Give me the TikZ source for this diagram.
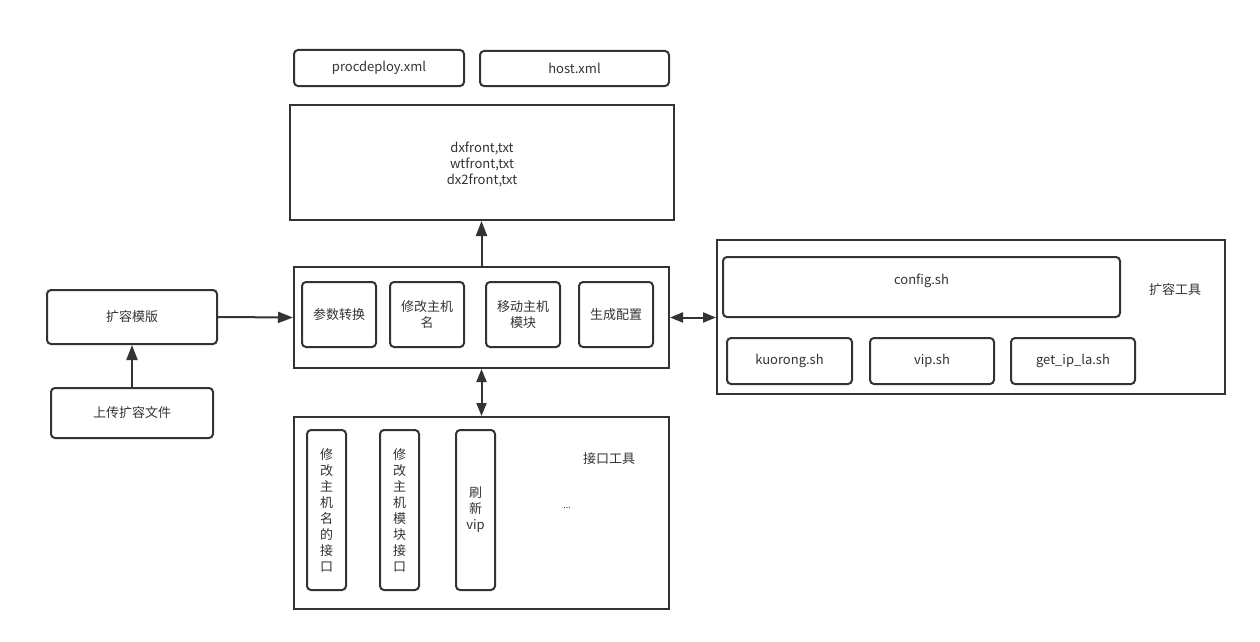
\documentclass[tikz,border=0pt]{standalone}
\usepackage{fontspec}
\setmainfont{Noto Sans CJK SC}
\usetikzlibrary{arrows.meta}
\definecolor{lc}{HTML}{333333}
\definecolor{tc}{HTML}{333333}
\begin{document}
\begin{tikzpicture}[x=1pt,y=-1pt,
  box/.style={draw=lc, line width=2pt, fill=white, inner sep=0pt,
    font=\fontsize{13}{16}\selectfont, text=tc, align=center},
  rbox/.style={box, rounded corners=4pt},
  lbl/.style={inner sep=0pt, font=\fontsize{13}{16}\selectfont, text=tc, align=center},
  arr/.style={draw=lc, line width=2pt, -{Triangle[length=15pt,width=11pt]}},
  darr/.style={draw=lc, line width=2pt, {Triangle[length=13pt,width=10pt]}-{Triangle[length=13pt,width=10pt]}}]
\useasboundingbox[fill=white] (0,0) rectangle (1260,642);
% top files
\node[rbox, minimum width=170pt, minimum height=36pt] (proc) at (379,68) {procdeploy.xml};
\node[rbox, minimum width=189pt, minimum height=35pt] (host) at (574.5,68.5) {host.xml};
\node[box, minimum width=384pt, minimum height=115pt] (txt) at (482,162.5) {};
\node[lbl] (txtl) at (482,164.5) {dxfront,txt\\wtfront,txt\\dx2front,txt};
% middle container
\node[box, minimum width=375pt, minimum height=101pt] (mid) at (481.5,317.5) {};
\node[rbox, minimum width=74pt, minimum height=65pt] (m1) at (339,314.5) {参数转换};
\node[rbox, minimum width=74pt, minimum height=65pt] (m2) at (427,314.5) {修改主机\\名};
\node[rbox, minimum width=74pt, minimum height=65pt] (m3) at (523,314.5) {移动主机\\模块};
\node[rbox, minimum width=74pt, minimum height=65pt] (m4) at (616,314.5) {生成配置};
% bottom container
\node[box, minimum width=375pt, minimum height=192pt] (bot) at (481.5,513) {};
\node[rbox, minimum width=39pt, minimum height=160pt] (b1) at (326.5,510) {修\\改\\主\\机\\名\\的\\接\\口};
\node[rbox, minimum width=39pt, minimum height=160pt] (b2) at (399.5,510) {修\\改\\主\\机\\模\\块\\接\\口};
\node[rbox, minimum width=39pt, minimum height=160pt] (b3) at (475.5,510) {刷\\新\\vip};
\node[lbl] (jk) at (609,459) {接口工具};
\node[lbl, font=\fontsize{9}{10}\selectfont] (dots) at (567,508) {...};
% right container
\node[box, minimum width=508pt, minimum height=154pt] (right) at (971,317) {};
\node[rbox, minimum width=397pt, minimum height=60pt] (cfg) at (921.5,287) {};
\node[lbl] (cfgt) at (921.5,281) {config.sh};
\node[lbl] (kr) at (1175,290) {扩容工具};
\node[rbox, minimum width=125pt, minimum height=46pt] (k1) at (789.5,361) {kuorong.sh};
\node[rbox, minimum width=124pt, minimum height=46pt] (k2) at (932,361) {vip.sh};
\node[rbox, minimum width=124pt, minimum height=46pt] (k3) at (1073,361) {get\_ip\_la.sh};
% left
\node[rbox, minimum width=170pt, minimum height=54pt] (tpl) at (132,317) {扩容模版};
\node[rbox, minimum width=162pt, minimum height=50pt] (up) at (132,413) {上传扩容文件};
% connectors
\draw[arr] (tpl.east) -- (mid.west);
\draw[arr] (up.north) -- (tpl.south);
\draw[arr] (mid.north) -- (mid.north |- txt.south);
\draw[darr] (mid.south) -- (bot.north);
\draw[darr] (mid.east) -- (mid.east -| right.west);
\end{tikzpicture}
\end{document}
